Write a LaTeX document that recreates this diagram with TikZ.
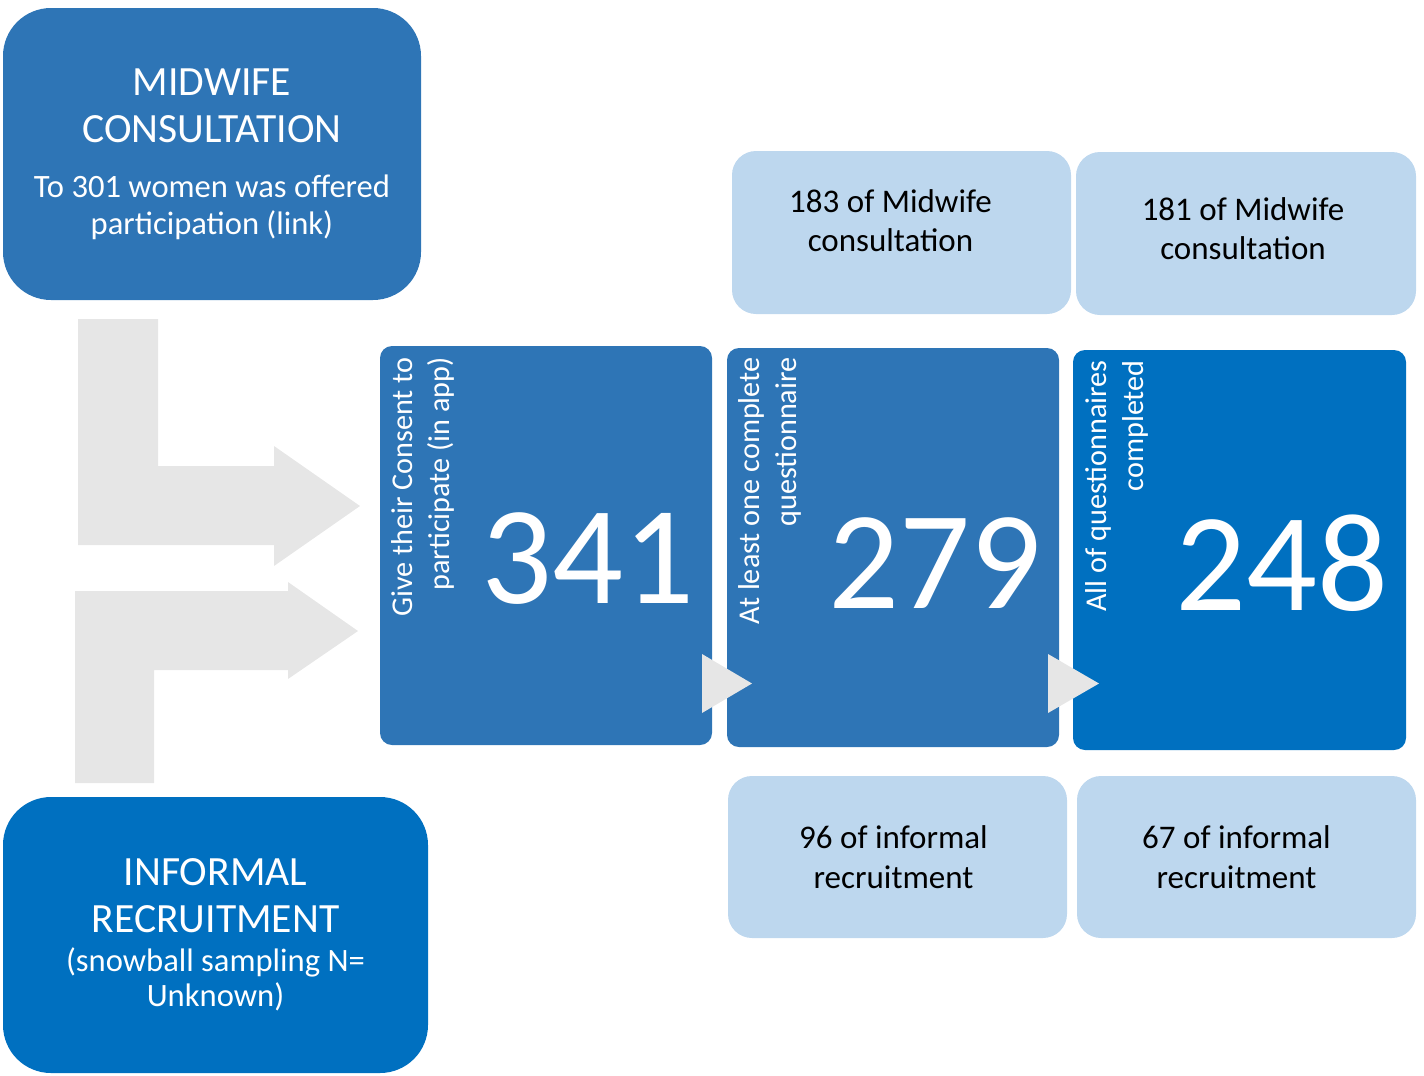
\documentclass[tikz,border=0pt]{standalone}
\usepackage{fontspec}
\setmainfont{Carlito}

\definecolor{midblue}{HTML}{2E75B6}
\definecolor{darkblue}{HTML}{0070C0}
\definecolor{paleblue}{HTML}{BDD7EE}
\definecolor{flowgrey}{HTML}{E6E6E6}

\tikzset{
  source/.style={fill=#1, rounded corners=24pt, text=white, align=center, inner sep=0pt,
    font=\fontsize{20.8}{23.5}\selectfont},
  countbox/.style={fill=#1, rounded corners=6pt, minimum width=166pt, minimum height=199.5pt, inner sep=0pt},
  splitbox/.style={fill=paleblue, rounded corners=12pt, minimum width=169.5pt, minimum height=81.5pt, inner sep=0pt},
  splittext/.style={inner sep=0pt, align=center, font=\fontsize{16.5}{19.8}\selectfont},
  sidetext/.style={rotate=90, anchor=north east, inner sep=0pt, align=right, text=white,
    font=\fontsize{15.1}{18.5}\selectfont},
  bignum/.style={anchor=base, inner sep=0pt, text=white, font=\fontsize{70}{70}\selectfont}
}

\begin{document}
\begin{tikzpicture}[x=0.5pt, y=-0.5pt]
  \useasboundingbox (0,0) rectangle (1424,1076);

  % grey flow arrows into the first box
  \fill[flowgrey] (78,319) -- (158,319) -- (158,466) -- (274,466) -- (274,446) -- (360,506)
    -- (274,566) -- (274,545) -- (78,545) -- cycle;
  \fill[flowgrey] (75,783) -- (75,591) -- (288,591) -- (288,582) -- (358,631) -- (288,679)
    -- (288,670) -- (154,670) -- (154,783) -- cycle;

  \node[source=midblue, minimum width=209pt, minimum height=146pt] (midwife) at (212,154)
    {MIDWIFE\\CONSULTATION\\[4pt]{\fontsize{16.3}{18.5}\selectfont To 301 women was offered}\\[-5pt]{\fontsize{16.3}{18.5}\selectfont participation (link)}};
  \node[source=darkblue, minimum width=212.5pt, minimum height=138pt] (informal) at (215.5,935)
    {INFORMAL\\RECRUITMENT\\[-4pt]{\fontsize{16.3}{17}\selectfont (snowball sampling N=}\\[-6pt]{\fontsize{16.3}{17}\selectfont Unknown)}};

  \node[countbox=midblue] (consent) at (546,545.5) {};
  \node[countbox=midblue] (oneq) at (893,547.5) {};
  \node[countbox=darkblue, minimum width=166.5pt, minimum height=200pt] (allq) at (1239.5,550) {};

  \node[sidetext] (consent-txt) at (391,357) {Give their Consent to\\participate (in app)};
  \node[sidetext] (oneq-txt) at (738,357) {At least one complete\\questionnaire};
  \node[sidetext] (allq-txt) at (1085,360) {All of questionnaires\\completed};

  \node[bignum] (n341) at (588,603) {341};
  \node[bignum] (n279) at (935,608) {279};
  \node[bignum] (n248) at (1282,610) {248};

  \fill[flowgrey] (702,654) -- (752,683.5) -- (702,713) -- cycle;
  \fill[flowgrey] (1048,654) -- (1099,683.5) -- (1048,713) -- cycle;

  \node[splitbox] (mid183) at (901.5,232.5) {};
  \node[splitbox, minimum width=170pt] (mid181) at (1246,233.5) {};
  \node[splitbox, minimum height=81pt] (inf96) at (897.5,857) {};
  \node[splitbox, minimum height=81pt] (inf67) at (1246.5,857) {};

  \node[splittext] (mid183-txt) at ([xshift=-5.5pt, yshift=6pt]mid183.center) {183 of Midwife\\consultation};
  \node[splittext] (mid181-txt) at ([xshift=-1.5pt, yshift=2.5pt]mid181.center) {181 of Midwife\\consultation};
  \node[splittext] (inf96-txt) at ([xshift=-2pt]inf96.center) {96 of informal\\recruitment};
  \node[splittext] (inf67-txt) at ([xshift=-5pt]inf67.center) {67 of informal\\recruitment};
\end{tikzpicture}
\end{document}
